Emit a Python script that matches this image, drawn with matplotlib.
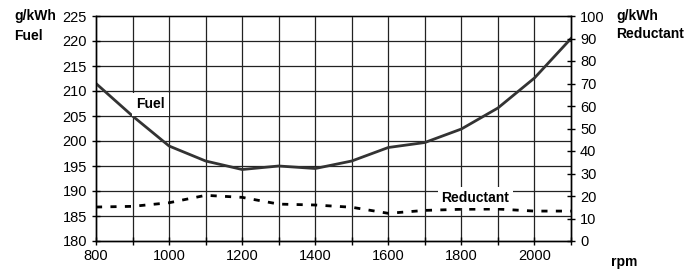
import numpy as np
import matplotlib.pyplot as plt

plt.rcParams['font.family'] = ['Liberation Sans', 'DejaVu Sans']
plt.rcParams['font.size'] = 10

# data
rpm = [800, 900, 1000, 1100, 1200, 1300, 1400, 1500, 1600, 1700, 1800, 1900, 2000, 2100]
fuel = [211.5, 205.0, 199.0, 196.0, 194.3, 195.0, 194.5, 196.0, 198.7, 199.7, 202.4, 206.6, 212.6, 220.5]
reductant = [15.1, 15.4, 17.0, 20.3, 19.4, 16.4, 16.0, 15.0, 12.3, 13.6, 14.1, 14.2, 13.3, 13.3]

fig = plt.figure(figsize=(6.99, 2.70), dpi=100)
ax = fig.add_axes([96 / 699, 29 / 270, 475 / 699, 225 / 270])
ax2 = ax.twinx()

ax.set_xlim(800, 2100)
ax.set_ylim(180, 225)
ax2.set_ylim(0, 100)

ax.set_xticks(range(800, 2101, 200))
ax.set_xticks(range(900, 2101, 200), minor=True)
ax.set_yticks(range(180, 226, 5))
ax2.set_yticks(range(0, 101, 10))

# grid
for x in range(900, 2100, 100):
    ax.axvline(x, color='#222222', lw=0.9, zorder=1)
for y in range(185, 225, 5):
    ax.axhline(y, color='#222222', lw=0.9, zorder=1)

ax.plot(rpm, fuel, color='#333333', lw=2.0, zorder=3)
ax2.plot(rpm, reductant, color='black', lw=2.0, linestyle=(0, (2.2, 3.0)), zorder=3)

ax.text(948, 207.3, 'Fuel', ha='center', va='center', fontweight='bold',
        bbox=dict(facecolor='white', edgecolor='none', pad=3), zorder=4)
ax2.text(1838, 19.3, 'Reductant', ha='center', va='center', fontweight='bold',
         bbox=dict(facecolor='white', edgecolor='none', pad=2.5), zorder=4)

for a in (ax, ax2):
    for s in a.spines.values():
        s.set_color('black')
        s.set_linewidth(1.0)
ax.spines['top'].set_color('#888888')

ax.tick_params(axis='both', which='both', direction='inout', length=6, width=1,
               labelsize=10.5, color='black')
ax.tick_params(axis='x', which='major', pad=3)
ax2.tick_params(axis='y', direction='inout', length=6, width=1, labelsize=10.5)

fig.text(14 / 699, 1 - 16 / 270, 'g/kWh', fontweight='bold', fontsize=10, va='center')
fig.text(14 / 699, 1 - 36 / 270, 'Fuel', fontweight='bold', fontsize=10, va='center')
fig.text(616 / 699, 1 - 16 / 270, 'g/kWh', fontweight='bold', fontsize=10, va='center')
fig.text(616 / 699, 1 - 34 / 270, 'Reductant', fontweight='bold', fontsize=10, va='center')
fig.text(611 / 699, 1 - 262 / 270, 'rpm', fontweight='bold', fontsize=10, va='center')

fig.savefig('out.png', dpi=100)
